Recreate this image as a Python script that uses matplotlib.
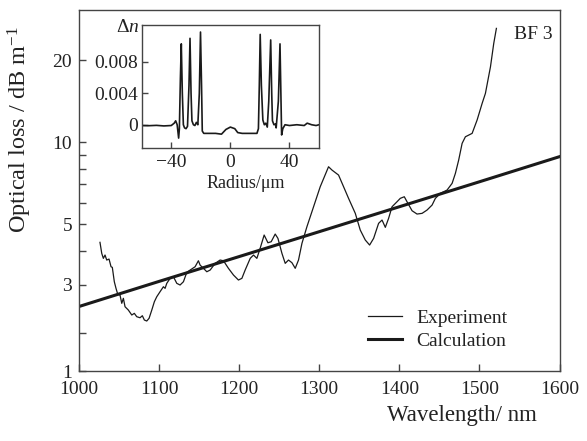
import matplotlib
matplotlib.use("Agg")
import matplotlib.pyplot as plt
from matplotlib.ticker import FixedLocator, NullFormatter, FixedFormatter

plt.rcParams['font.family'] = ['Liberation Serif', 'DejaVu Serif']
plt.rcParams['mathtext.fontset'] = 'custom'
plt.rcParams['mathtext.rm'] = 'Liberation Serif'
plt.rcParams['mathtext.it'] = 'Liberation Serif:italic'

# ---------------- data ----------------
exp_wavelength = [1026.2, 1028.4, 1030.4, 1032.5, 1034.6, 1037.5, 1040.0, 1041.6, 1044.1, 1046.2,
                  1048.4, 1051.2, 1053.4, 1055.4, 1057.5, 1061.6, 1065.9, 1069.1, 1072.1, 1076.2,
                  1079.1, 1081.6, 1084.6, 1087.5, 1090.9, 1094.1, 1097.1, 1101.2, 1105.4, 1107.5,
                  1109.6, 1113.8, 1117.9, 1122.1, 1126.2, 1130.4, 1134.6, 1138.8, 1145.0, 1149.1,
                  1151.2, 1155.4, 1159.6, 1163.8, 1170.0, 1176.2, 1180.4, 1186.6, 1192.9, 1199.1,
                  1203.4, 1207.5, 1213.8, 1217.9, 1222.1, 1226.2, 1231.2, 1235.9, 1240.0, 1245.0,
                  1248.4, 1253.4, 1257.5, 1261.6, 1265.9, 1270.0, 1274.1, 1278.4, 1284.6, 1292.9,
                  1301.2, 1311.6, 1315.9, 1324.1, 1330.4, 1336.6, 1345.0, 1351.2, 1357.5, 1362.9,
                  1367.9, 1374.1, 1378.4, 1382.5, 1386.6, 1390.9, 1397.1, 1401.2, 1406.2, 1409.6,
                  1415.9, 1422.1, 1428.4, 1434.6, 1440.9, 1445.0, 1451.2, 1459.6, 1465.9, 1470.0,
                  1474.1, 1478.4, 1482.5, 1490.9, 1497.1, 1503.4, 1507.5, 1513.8, 1517.9, 1521.2]
exp_loss = [4.296, 3.915, 3.753, 3.859, 3.7, 3.731, 3.497, 3.479, 3.081, 2.914,
            2.771, 2.754, 2.568, 2.679, 2.495, 2.427, 2.327, 2.36, 2.294, 2.274,
            2.313, 2.231, 2.212, 2.263, 2.427, 2.603, 2.715, 2.832, 2.954, 2.914,
            3.04, 3.171, 3.214, 3.04, 2.997, 3.081, 3.335, 3.401, 3.497, 3.678,
            3.547, 3.45, 3.352, 3.401, 3.598, 3.7, 3.678, 3.45, 3.26, 3.126,
            3.171, 3.401, 3.753, 3.859, 3.753, 4.084, 4.569, 4.281, 4.318, 4.607,
            4.443, 3.915, 3.598, 3.7, 3.617, 3.45, 3.7, 4.26, 4.9, 5.8,
            6.866, 8.128, 7.904, 7.578, 6.866, 6.226, 5.486, 4.765, 4.38, 4.199,
            4.443, 5.042, 5.185, 4.875, 5.26, 5.8, 6.05, 6.226, 6.311, 6.05,
            5.608, 5.454, 5.486, 5.641, 5.884, 6.226, 6.494, 6.677, 7.066, 7.687,
            8.6, 9.901, 10.468, 10.772, 12.051, 13.874, 15.095, 18.891, 23.013, 26.117]

calc_wavelength = [1000, 1100, 1200, 1300, 1400, 1500, 1600]
calc_loss = [2.5, 3.09, 3.81, 4.70, 5.80, 7.16, 8.85]

x_ticks = [1000, 1100, 1200, 1300, 1400, 1500, 1600]
y_major_ticks = [1.451, 3, 5, 10, 20]
y_major_labels = ['1', '3', '5', '10', '20']
y_minor_ticks = [2, 4, 6, 7, 8, 9]

radius = [-60, -55, -50, -45, -40, -38, -37, -36, -35, -34.5, -33.8, -33.2, -32.5, -31.8, -31,
          -30, -29, -28, -27.3, -26.6, -26, -25, -24, -23, -22, -21, -20.2, -19.5, -19, -18,
          -14, -10, -6, -3, 0, 3, 5, 8, 12, 18, 19, 19.6, 20.2, 21, 22, 23, 24, 25, 26, 27.3,
          28, 28.5, 29.5, 30.5, 31, 32.5, 33.6, 34.2, 34.7, 35.5, 37, 40, 45, 50, 52, 55, 58, 60]
delta_n = [-0.0001, -0.00012, -0.00008, -0.00015, -0.0001, 0.0002, 0.0005, 0.0, -0.0017, -0.0005,
           0.006, 0.0103, 0.004, 0.0, -0.0004, -0.0005, -0.0002, 0.005, 0.011, 0.004,
           0.0005, 0.0, -0.0001, 0.0003, 0.0, 0.004, 0.0118, 0.005, -0.0008, -0.0011,
           -0.0011, -0.0011, -0.0012, -0.0006, -0.0003, -0.0005, -0.0010, -0.0011, -0.0011, -0.0011,
           -0.0005, 0.005, 0.0115, 0.005, 0.0006, 0.0, 0.0002, -0.0003, 0.003, 0.0108,
           0.004, 0.0005, 0.0, 0.0001, -0.0004, 0.003, 0.0103, 0.004, -0.0013, -0.0005,
           0.0, -0.0001, 0.0, -0.0001, 0.0002, 0.0, -0.0001, 0.0]
inset_x_ticks = [-40, 0, 40]
inset_y_ticks = [0, 0.004, 0.008]
inset_y_labels = ['0', '0.004', '0.008']

# ---------------- figure ----------------
W, H = 587, 441
fig = plt.figure(figsize=(W / 100, H / 100), dpi=100)
ax = fig.add_axes([79 / W, 1 - 371 / H, 480.5 / W, 361 / H])

line_col = '#1a1a1a'
spine_col = '#444444'
ax.plot(exp_wavelength, exp_loss, color=line_col, lw=0.9, label='Experiment')
ax.plot(calc_wavelength, calc_loss, color=line_col, lw=2.2, label='Calculation')

ax.set_yscale('log')
ax.set_xlim(1000, 1600)
ax.set_ylim(1.451, 30.5)
ax.xaxis.set_major_locator(FixedLocator(x_ticks))
ax.yaxis.set_major_locator(FixedLocator(y_major_ticks))
ax.yaxis.set_major_formatter(FixedFormatter(y_major_labels))
ax.yaxis.set_minor_locator(FixedLocator(y_minor_ticks))
ax.yaxis.set_minor_formatter(NullFormatter())
ax.tick_params(axis='both', which='both', direction='in', colors=spine_col,
               labelcolor='#222222', labelsize=14, top=False, right=False)
ax.tick_params(axis='both', which='major', length=5, width=1)
ax.tick_params(axis='y', which='minor', length=5, width=1)
ax.tick_params(axis='x', pad=7)
ax.tick_params(axis='y', pad=5)
for s in ax.spines.values():
    s.set_color(spine_col)
    s.set_linewidth(1.0)

ax.text(0.986, 0.9335, 'BF 3', transform=ax.transAxes, ha='right', va='center',
        fontsize=14, color='#222222')

fig.text(462 / W, 1 - 415 / H, 'Wavelength/ nm', ha='center', va='center',
         fontsize=16.5, color='#222222')
fig.text(20 / W, 1 - 130 / H, r'Optical loss / dB m$^{-1}$', ha='center', va='center',
         rotation=90, fontsize=17.5, color='#222222')

leg = ax.legend(loc='upper left', bbox_to_anchor=((368 - 79) / 480.5, 0.172),
                frameon=False, fontsize=14, handlelength=1.75, handletextpad=0.75,
                labelspacing=0.3, borderpad=0, borderaxespad=0)
for t in leg.get_texts():
    t.set_color('#222222')

# ---------------- inset ----------------
axi = fig.add_axes([141.7 / W, 1 - 148.3 / H, 177.3 / W, 123.3 / H])
axi.plot(radius, delta_n, color=line_col, lw=1.2)
axi.set_xlim(-60, 60)
axi.set_ylim(-0.003, 0.0127)
axi.xaxis.set_major_locator(FixedLocator(inset_x_ticks))
axi.yaxis.set_major_locator(FixedLocator(inset_y_ticks))
axi.yaxis.set_major_formatter(FixedFormatter(inset_y_labels))
axi.tick_params(axis='both', direction='in', length=4, width=1, colors=spine_col,
                labelcolor='#222222', labelsize=14, top=False, right=False)
axi.tick_params(axis='x', pad=4)
axi.tick_params(axis='y', pad=3)
for s in axi.spines.values():
    s.set_color(spine_col)
    s.set_linewidth(1.0)
fig.text(245.7 / W, 1 - 183 / H, 'Radius/μm', ha='center', va='center',
         fontsize=13, color='#222222')
fig.text(128 / W, 1 - 28 / H, r'$\Delta n$', ha='center', va='center',
         fontsize=14, color='#222222')

fig.savefig('out.png', dpi=100)
